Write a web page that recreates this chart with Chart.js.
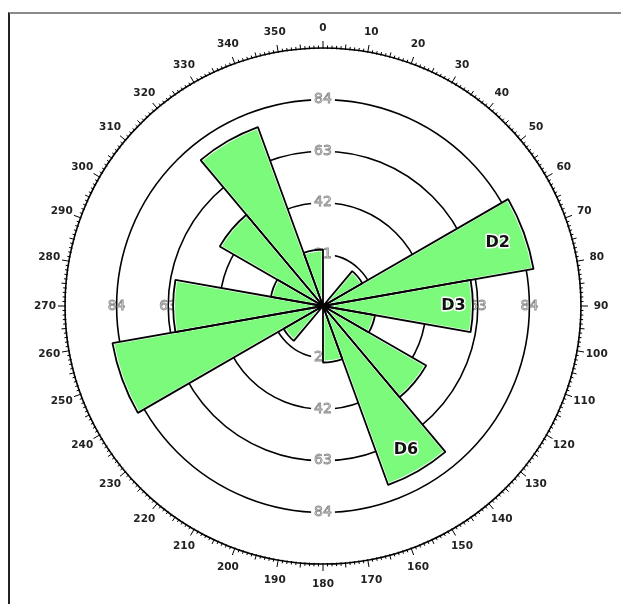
<!DOCTYPE html>
<html lang="en">
<head>
<meta charset="UTF-8">
<title>Rose diagram</title>
<script src="https://cdn.jsdelivr.net/npm/chart.js"></script>
<style>
  body { margin: 0; background: #fff; }
  .frame { position: absolute; left: 8px; top: 12px; right: 0; bottom: 0; border-top: 2px solid #8a8a8a; border-left: 2px solid #222; }
  canvas { position: absolute; left: 0; top: 0; }
</style>
</head>
<body>
<div class="frame"></div>
<canvas id="rose" width="621" height="604"></canvas>
<script>
// 20 degree bins, clockwise from north
const binLabels = ['0-20', '20-40', '40-60', '60-80', '80-100', '100-120', '120-140', '140-160', '160-180',
                   '180-200', '200-220', '220-240', '240-260', '260-280', '280-300', '300-320', '320-340', '340-360'];
const counts = [0, 0, 18.5, 87, 61, 21.5, 48.5, 77.5, 23, 0, 0, 18.5, 87, 61, 21.5, 48.5, 77.5, 23];
const setNames = ['', '', '', 'D2', 'D3', '', '', 'D6', '', '', '', '', '', '', '', '', '', ''];
const ringTicks = [21, 42, 63, 84];
const maxValue = 105;
const degreeLabels = [];
for (let d = 0; d < 360; d += 10) degreeLabels.push(String(d));

const rad = deg => (deg - 90) * Math.PI / 180;

const roseDecor = {
    id: 'roseDecor',
    // ring value labels sit under the wedges
    beforeDatasetsDraw(chart) {
        const r = chart.scales.r, ctx = chart.ctx;
        ctx.save();
        ctx.font = '14px "DejaVu Sans"';
        ctx.textAlign = 'center';
        ctx.textBaseline = 'middle';
        ringTicks.forEach(v => {
            const dist = r.getDistanceFromCenterForValue(v);
            const txt = String(v);
            const w = ctx.measureText(txt).width;
            [0, 90, 180, 270].forEach(deg => {
                const x = r.xCenter + Math.cos(rad(deg)) * dist;
                const y = r.yCenter + Math.sin(rad(deg)) * dist;
                if (deg === 0 || deg === 180) {
                    ctx.fillStyle = '#fff';
                    ctx.fillRect(x - w / 2 - 3, y - 3, w + 6, 6);
                }
                ctx.strokeStyle = '#8c8c8c';
                ctx.lineWidth = 0.9;
                ctx.strokeText(txt, x, y);
            });
        });
        ctx.restore();
    },
    afterDatasetsDraw(chart) {
        const ctx = chart.ctx;
        const meta = chart.getDatasetMeta(1);
        ctx.save();
        ctx.font = 'bold 16px "DejaVu Sans"';
        ctx.textAlign = 'center';
        ctx.textBaseline = 'middle';
        ctx.lineJoin = 'round';
        meta.data.forEach((arc, i) => {
            if (!setNames[i]) return;
            const p = arc.getProps(['x', 'y', 'startAngle', 'endAngle', 'outerRadius'], true);
            const mid = (p.startAngle + p.endAngle) / 2;
            const x = p.x + Math.cos(mid) * p.outerRadius * 0.87;
            const y = p.y + Math.sin(mid) * p.outerRadius * 0.87;
            ctx.strokeStyle = '#fff';
            ctx.lineWidth = 3;
            ctx.strokeText(setNames[i], x, y);
            ctx.fillStyle = '#111';
            ctx.fillText(setNames[i], x, y);
        });
        ctx.restore();
    },
    // compass ticks and degree labels round the outer ring
    afterDraw(chart) {
        const r = chart.scales.r, ctx = chart.ctx;
        const outer = r.getDistanceFromCenterForValue(maxValue);
        ctx.save();
        ctx.strokeStyle = '#000';
        ctx.lineWidth = 1;
        for (let d = 0; d < 360; d++) {
            const len = d % 10 === 0 ? 7 : (d % 5 === 0 ? 4.5 : 2.5);
            const a = rad(d);
            ctx.beginPath();
            ctx.moveTo(r.xCenter + Math.cos(a) * (outer - 1), r.yCenter + Math.sin(a) * (outer - 1));
            ctx.lineTo(r.xCenter + Math.cos(a) * (outer + len), r.yCenter + Math.sin(a) * (outer + len));
            ctx.stroke();
        }
        ctx.font = 'bold 10.5px "DejaVu Sans"';
        ctx.fillStyle = '#222';
        ctx.textAlign = 'center';
        ctx.textBaseline = 'middle';
        degreeLabels.forEach(t => {
            const a = rad(Number(t));
            ctx.fillText(t, r.xCenter + Math.cos(a) * (outer + 20), r.yCenter + Math.sin(a) * (outer + 20));
        });
        ctx.restore();
    }
};

new Chart(document.getElementById('rose'), {
    type: 'polarArea',
    data: {
        labels: binLabels,
        datasets: [
            { data: counts, backgroundColor: 'rgba(0,0,0,0)', borderColor: '#000', borderWidth: 1.8 },
            { data: counts, backgroundColor: '#7cfa7c', borderColor: '#fff', borderWidth: 1.5, borderAlign: 'inner' }
        ]
    },
    options: {
        responsive: false,
        animation: false,
        layout: { padding: { left: 65, right: 40, top: 48, bottom: 40 } },
        plugins: { legend: { display: false }, tooltip: { enabled: false } },
        scales: {
            r: {
                min: 0,
                max: maxValue,
                ticks: { stepSize: 21, display: false },
                grid: { color: '#000', lineWidth: 1.6 },
                angleLines: { display: false },
                pointLabels: { display: false }
            }
        }
    },
    plugins: [roseDecor]
});
</script>
</body>
</html>
